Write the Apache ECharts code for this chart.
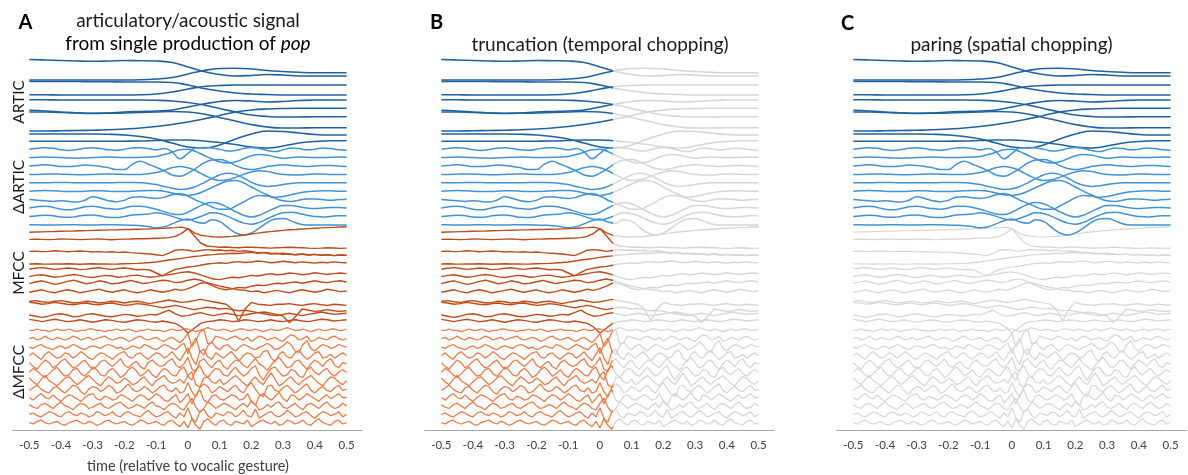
<!DOCTYPE html>
<html>
<head>
<meta charset="utf-8">
<script src="https://cdn.jsdelivr.net/npm/echarts@6/dist/echarts.min.js"></script>
<style>
html,body{margin:0;padding:0;background:#fff;}
#chart{width:1188px;height:475px;}
</style>
</head>
<body>
<div id="chart"></div>
<script>
// Time axis (s, relative to the vocalic gesture)
const TIME_TICKS = [-0.5, -0.4, -0.3, -0.2, -0.1, 0, 0.1, 0.2, 0.3, 0.4, 0.5];
const TRUNCATE_AT = 0.04;   // panel B keeps only samples before this time

// Articulatory trajectories, sampled every 0.05 s (deviation from each row's baseline)
const ARTIC = [
  [0.5,0,-0.5,-1,-1.3,-1,-0.5,-0.7,-1,-2.5,-7,-11.5,-14.5,-16,-15.5,-14.5,-15,-16,-16,-16,-16],
  [-11.6,-11.6,-11.6,-11.6,-11.6,-11.6,-11.6,-11.4,-10.6,-9.1,-5.6,-2.1,-0.1,0.1,-0.6,-2.1,-3.1,-3.9,-4.3,-4.3,-4.3],
  [-4.7,-4.7,-4.7,-4.7,-4.9,-5,-5.2,-5.2,-5.2,-5.7,-8.2,-11.7,-14.2,-16.2,-17.2,-17.7,-18.2,-18.2,-18.2,-18.2,-18.2],
  [-9.5,-9.6,-9.8,-9.8,-9.8,-9.8,-9.8,-9.6,-8.8,-6.8,-3.8,-1.3,-0.3,0.2,0.2,0.2,0.2,0.2,0.2,0.2,0.2],
  [-6.1,-6.2,-6.4,-6.4,-6.4,-6.4,-6.4,-6.4,-6.7,-7.4,-8.9,-11.4,-14.9,-18.4,-21.4,-22.9,-23.4,-23.4,-23.1,-23.1,-23.1],
  [-8.3,-9,-10,-11,-11.5,-11,-10,-9.5,-9,-8,-5,-2,0.5,1.5,1,0,0.5,1.5,2,2,2],
  [-1.6,-1.6,-2.1,-2.6,-2.9,-2.9,-2.6,-2.1,-1.6,-1.1,-1.6,-3.6,-7.1,-10.6,-14.1,-16.6,-17.6,-17.6,-17.3,-17.3,-17.3],
  [-12.2,-12.2,-12,-11.7,-11.4,-11,-10.2,-9.2,-7.7,-5.7,-3.2,-0.2,3.3,6.8,8.8,9.8,10.3,10.5,10.5,10.5,10.5],
  [-6.8,-6.8,-6.8,-6.8,-6.8,-7.1,-7.8,-9.3,-11.8,-15.8,-19.8,-20.8,-17.8,-11.8,-6.8,-3.8,-4.3,-5.8,-7.3,-7.8,-7.8],
  [-5.7,-5.7,-5.7,-5.7,-5.7,-5.7,-5.6,-5.4,-4.9,-4.4,-4.4,-5.4,-6.9,-8.9,-11.4,-12.4,-10.4,-7.4,-5.9,-5.1,-5.1]
];

// Articulatory velocities, sampled every 0.025 s
const D_ARTIC = [
  [0,0.8,1.3,0.8,-0.5,-1,-0.3,0.8,1.2,0.5,-0.5,-0.8,0,1,1.2,0.5,-0.5,0.5,-2,-8,-3.5,1,1.5,1,0,-1.5,-1,0.5,1.5,0.5,-1,-2,-0.5,1,0.5,-0.5,0,1,0.5,-0.5,-1],
  [0,0.3,0.5,0.3,0,-0.3,-0.5,-0.3,0,0.3,0.5,0.3,0,0,0.3,0.5,1,2.5,4.5,6.5,7,5,2,-1,-3.5,-4.5,-3.5,-1,1.5,2.5,2,0.5,-0.5,0,0.5,0.3,0,0,0.3,0.5,0.3],
  [0,0.5,1,0.5,-0.5,-0.5,0,0.8,0.5,-0.5,-1.5,-3,-3,1.5,4,1.5,-1,-4,-7.5,-8.5,-6,-2,2.5,5,5.5,3.5,0.5,-2,-3,-2,-0.5,0.5,1,0.5,0,-0.5,0,0.5,0.5,0,-0.5],
  [0,0,0.2,0.3,0.2,0,-0.2,-0.2,0,0.2,0.3,0.2,0,0,0,0.5,1.5,3.5,5.5,6.5,5.5,3,-0.5,-3.5,-5,-4.5,-2.5,0,2,3,2.5,1,0,-0.5,-0.5,0,0.3,0.3,0,0,0],
  [0,0,0,0.2,0.3,0.2,0,0,0,0,0,0.2,0.3,0.2,0,-0.5,-1.5,-3,-4.5,-5.5,-5,-3,0,3.5,6.5,8,7,4,0.5,-2,-3,-2.5,-1.5,-0.5,0,0,0,0,0,0,0],
  [0,0.3,0.5,0.3,0,-0.3,-0.3,0,0.3,0.3,0,-0.3,-0.3,0,0.3,0.5,0.5,0,-1.5,-3,-3.5,-2.5,0,3,6,8.5,9,7,3.5,0,-3,-5,-4.5,-3,-1.5,-0.5,0,0.3,0.3,0,0],
  [0,-0.5,-1,-1.5,-1,-1.5,-2,-0.5,2.3,1,-1,-1.7,-0.5,2,2.3,1.5,1,2,4,5,3,-0.5,-3,-6,-8,-8,-5.5,-2,1.5,3.5,3,1,-1,-1.5,-0.5,0.5,0.5,0,-0.5,0,0.3],
  [0,1,1.5,0.5,-1,-1.5,-0.5,1,1.5,0.5,-0.5,-1,0,1.5,1.5,0.5,-1,-3,-5,-5.5,-3.5,0,3,4.5,3.5,0.5,-3,-6,-7.5,-6,-3,0,2,2,1,0,-0.5,0,0.5,0.5,0],
  [0,0.5,1,0.5,-0.5,-0.8,0,1,1.2,0.3,-0.8,-1,0,1.2,1.5,2,3,2,0,-2,-3,-1.5,1,3,2.5,0,-3,-5.5,-6.5,-5,-2,1,3,3.5,2.5,1,0,-0.5,0,0.5,0.5],
  [0.1,0,-0.2,-0.2,0,0.1,0,-0.2,-0.2,0,0.1,0,-0.2,-0.4,-0.7,-1.5,-2.5,-1.7,0.8,3.3,4.8,2.3,1.3,4.3,2.8,-2.2,-6.7,-8.5,-6.7,-2.7,1.8,4.8,5.3,3.3,0.8,-0.2,-0.2,-0.2,-0.2,-0.2,-0.2]
];

// Mel-frequency cepstral coefficients, sampled every 0.02 s
const MFCC = [
  [-1,-0.8,-0.7,-0.5,-0.4,-0.2,-0.1,0,0.2,0.3,0.5,0.6,0.7,0.9,1,1.2,1.3,1.5,1.6,1.8,2,2.2,2.5,2.8,3.2,2,-1.5,-3.5,-4.3,-4.8,-5,-4.8,-4.5,-4,-3.3,-2.5,-1.8,-1,-0.5,0,0.5,1,1.3,1.7,2,2.3,2.6,2.8,3,3.3,3.5],
  [0,0.2,0,-0.2,0,0.3,0.2,0,-0.2,0,0.2,0.3,0,-0.3,0,0.2,0.3,0.5,0.5,0.8,1,1.2,1.5,2.5,5,9,3,-3,-5.5,-6,-6.5,-6.3,-6.8,-7,-6.5,-6.5,-6.8,-7,-7.3,-7,-6.8,-6.5,-6.8,-7,-7.3,-7.5,-7.3,-7,-7.2,-7.5,-7.3],
  [-3,-2.8,-3.2,-3,-2.5,-2.8,-3.3,-3,-2.7,-3,-3.5,-3.2,-3.6,-3.3,-3.8,-3.5,-4,-4.4,-4.8,-5.2,-5.8,-6.5,-4.5,-2,-1.5,-2,-3,-2.2,-1.5,-2,-1.8,-2.5,-2,-3,-2.5,-3.2,-4,-3.8,-4.5,-5,-4.5,-5.5,-5.8,-5.2,-6,-5.5,-6.2,-5.8,-6.5,-6,-6.3],
  [-6.5,-6.3,-6.5,-6.6,-6.4,-6.5,-6.3,-6.5,-6.7,-6.5,-6.3,-6.5,-6.4,-6.6,-6.5,-6.3,-6.2,-6,-5.7,-5.3,-4.8,-4,-3.2,-2.5,-1.8,-1,-0.3,0.3,1,1.3,1.8,2,2.5,2.2,2.8,3.2,2.5,3,1.8,2.5,1.5,2,1.2,1.8,1,1.5,0.8,1.3,0.5,1,0.8],
  [-3.7,-3,-2.5,-3.2,-4,-3.5,-2.8,-3.3,-4.2,-3.8,-3,-2.6,-3.4,-4,-3.2,-2.8,-3.5,-4.3,-4,-4.5,-7,-9.5,-6.5,-4,-3,-2,-1.5,-0.5,0.5,1,1.5,1,2,2.5,1.8,2.2,3,2.5,1.5,2,2.8,2.2,1.5,2.3,1.8,1.2,2,1.5,2.3,1.8,1.5],
  [-3,-2,-1.5,-2.5,-3.5,-3,-2,-1.2,-2,-3.2,-3.8,-2.8,-2,-2.5,-3.5,-3,-2.2,-1.8,-2.8,-3.5,-3,-2,-1.5,-0.5,0.5,1,0,-1.5,-3.5,-5,-5.5,-4.5,-3.5,-4,-3,-2,-2.5,-1.5,-0.5,-1.5,-1,0,-0.5,-1.5,-0.8,0.2,-0.5,-1.2,-0.5,0,-0.5],
  [-1.9,-0.5,0.5,-1,-2.5,-1.5,0,1,-0.5,-2,-1,0.5,-0.5,-2,-1.5,-0.3,0.8,-0.5,-1.8,-1,0,1,0.5,-1,-0.5,1,2,1,-1.5,-4,-6,-7,-6,-5,-5.5,-4,-3,-3.5,-2.5,-1.5,-2,-1,-0.5,-1.5,-0.5,0.5,-0.5,-1,0,0.5,-0.5],
  [-2,-1,0,-1.5,-2.5,-1,0,-1,-2.5,-1.5,-0.5,0.5,-1,-2,-1,0,-1.5,-2.5,-1.5,0,-1,-2,-1,0.5,-0.5,1,3,5.5,6,4.5,3,2,1,0,-0.5,-1.5,-1,-2.5,-1.5,-0.5,-1.5,-2.5,-1,0,-1,-2,-1,0.5,-0.5,-1.5,-1],
  [-2.5,-2,-3,-3.5,-2.5,-2,-3,-4,-3.5,-2.5,-3,-4,-3.5,-2.5,-3,-4,-3,-2.5,-3.5,-4.5,-3.5,-2.5,-1.5,-2.5,-3.5,-3,-2,-1,-2,-3,-4,-5,-9,-19,-9,-3.5,-5,-5.5,-6,-5,-5,-4.5,-5.5,-6,-5,-4.5,-5.5,-6,-5,-5.5,-6],
  [3.6,3,2,2.5,3.5,2.8,2,1.5,2.5,3,2,1.5,2.5,3,2,1,1.5,2.5,2,1,0,-1,0,1,0,-1.5,-2.5,-1.5,-0.5,-1,-2,-1.5,-2.5,-3.5,-3,-4,-5,-4.5,-5.5,-6.5,-8,-13.5,-8,-2,-3,-4,-3.5,-2.5,-3.5,-4,-3.5],
  [0,-1,-2,-1,0.5,1,0,-1.5,-1,0.5,1,0,-1,-1.5,-0.5,0.5,0,-1,-0.5,0.5,0,2,4,1,-1,-0.5,1,2,0.5,-0.5,0.5,1.5,0.5,-0.5,0,1,2,1,0,-0.5,0.5,1.5,0.5,-0.5,0.5,1.5,2.5,1.5,0.5,1,1.5],
  [3.4,2.5,1.5,2.5,3.5,2.5,1.5,2,3,2,1,2,3,2.5,1.5,1,2,3,2.5,1.5,1,2,1,0,-3,-8,-4,0,1.5,2,3,2.5,1.5,2,3,2.5,1.5,2,3,2,1.5,2.5,3,2,1.5,2.5,3.5,3,2,2.5,3]
];

// MFCC velocities, sampled every 0.0125 s
const D_MFCC = [
  [0,0,1,0,0,-1,0,1,0,0,1,0,-1,0,0,1,1,0,0,-1,0,0,1,0,0,1,0,-1,0,0,1,0,0,0,-1,0,1,0,0,1,1,0,-1,0,1,2,1,0,0,1,0,-1,0,1,1,0,0,1,0,-1,0,1,0,0,1,2,1,0,0,1,0,-1,0,1,0,0,1,1,0,0,1],
  [0,1,-1,0,2,0,-1,1,0,-1,0,2,1,-1,0,1,-1,0,1,2,0,-1,0,1,0,-2,-1,1,2,0,-1,0,1,-1,-2,0,1,-1,-3,0,4,-6,-2,5,7,-4,-3,2,1,0,-1,1,2,0,-1,1,-2,0,2,1,-1,0,1,-1,-2,1,3,2,-1,0,2,-2,-1,1,0,-1,1,2,0,-1,0],
  [0,-1,1,2,0,-1,-2,0,1,-1,0,2,1,-1,-2,0,1,0,-1,1,2,1,-1,0,-2,-1,1,0,-1,2,1,-1,-2,0,2,1,-1,-2,1,3,-5,2,7,-3,-6,1,4,0,-2,1,2,-1,-3,0,2,1,-1,-2,0,1,3,1,-2,-1,1,4,2,-3,-4,2,5,-1,-3,0,2,1,-1,0,2,1,0],
  [0,2,-1,-3,1,3,0,-2,-1,2,1,-2,0,3,1,-2,-3,0,2,1,-1,-3,0,2,3,-1,-2,1,2,-1,-3,0,2,1,-2,0,3,-1,-4,1,6,-2,-7,3,5,-1,-3,2,0,-2,1,3,-1,-4,0,2,1,-2,-1,3,4,-2,-5,1,3,-1,-2,2,4,0,-3,-1,2,3,-2,-1,1,-2,0,2,0],
  [1,-2,-4,0,3,1,-3,-1,2,4,0,-3,-2,1,3,-1,-4,-2,2,3,0,-2,1,4,-1,-3,0,2,-2,-4,1,3,0,-2,-1,2,4,-1,-3,0,5,-4,-6,2,4,0,-3,1,3,-2,-4,0,3,2,-1,-3,1,4,0,-2,-5,-1,3,5,1,-3,-2,2,3,-1,-4,0,3,1,-2,2,4,-1,-3,1,0],
  [0,3,1,-2,-4,-1,2,4,0,-3,-2,2,3,-1,-3,0,4,2,-2,-3,1,3,0,-4,-2,2,4,1,-3,-1,2,-2,-4,0,3,1,-2,-3,2,4,-3,-6,2,5,-1,-4,0,3,2,-2,-3,1,4,0,-3,-1,3,5,-2,-6,-1,3,4,0,-3,-2,2,1,-3,-4,2,4,0,-2,1,3,-1,-3,0,2,0],
  [2,-1,-3,1,4,0,-2,-4,-1,2,3,0,-3,-1,2,4,1,-2,-4,0,3,1,-2,-1,2,0,-3,-2,1,3,-1,-4,0,2,4,0,-2,-1,1,-2,4,7,-3,-5,2,3,-1,-2,1,-3,-1,2,4,1,-2,-4,0,3,-1,-3,2,6,1,-4,-2,1,3,-1,-3,0,2,4,1,-2,-4,0,3,2,-1,-3,0],
  [-1,1,3,0,-2,-3,1,2,-1,-3,0,3,2,-2,-4,0,2,1,-2,0,3,1,-3,-2,1,4,0,-2,-1,2,0,-3,-1,2,3,-1,-2,1,-3,-2,5,-2,-6,1,4,2,-3,-1,2,0,-2,1,3,-1,-3,2,5,0,-4,-6,2,3,-1,-2,1,3,0,-3,-1,2,4,-1,-3,0,2,-1,-2,1,3,-1,0],
  [0,-2,1,3,0,-1,2,-1,-3,0,2,1,-1,-3,0,2,3,-1,-2,1,0,-2,-1,2,1,-1,-3,0,2,1,-2,0,3,1,-2,-3,0,2,-4,-1,3,-5,2,6,-2,-4,1,2,-1,-2,0,2,1,-2,-1,3,-3,-6,1,3,0,-2,1,4,-1,-3,2,1,-2,0,3,1,-1,-3,0,2,-1,1,3,0,0],
  [1,-1,-2,1,2,0,-2,1,3,0,-1,-3,0,2,1,-2,-1,1,2,-1,-2,0,2,3,0,-2,-1,1,0,-2,1,3,0,-1,-3,0,2,1,-2,-3,2,6,-1,-5,-2,3,1,-2,0,2,1,-1,-3,0,2,-1,4,1,-3,-2,1,-1,2,3,-1,-2,0,2,-1,-3,1,2,0,-2,1,3,0,-2,-1,2,0],
  [0,1,-1,-2,0,2,1,-1,-2,1,2,0,-1,1,0,-2,-1,2,1,-1,0,2,-1,-2,1,2,0,-1,-2,1,3,0,-2,-1,1,2,-1,-3,1,-2,5,-3,-6,2,4,-1,-3,1,0,-1,2,1,-2,0,3,-1,-2,4,-3,-1,1,2,-1,-2,0,3,1,-2,-1,1,2,-1,-3,0,2,1,-1,0,2,-2,0],
  [0,-1,1,2,0,-1,0,1,-1,-2,0,1,2,0,-1,1,0,-2,-1,1,2,0,-1,0,1,-1,-2,0,2,1,-1,0,1,-1,-2,1,2,-1,-3,1,-4,3,-2,-5,1,3,0,-2,1,2,-1,-2,1,0,-1,2,-3,-1,1,2,0,-1,1,-2,-1,2,1,-1,0,2,-1,-2,1,3,0,-1,-2,1,2,-1,0]
];

// ---- drawing ----
const FONT = 'Lato, "Open Sans", "DejaVu Sans", sans-serif';
const GRAY = '#d6d6d6';
const ROW_GAP = 8.4;                 // vertical distance between stacked rows
// per-group display gain, row shift, colour and stroke
const GROUPS = [
  { rows: ARTIC,   step: 0.05,   smooth: 0.45, color: '#1f62a3', width: 1.6, shift: 0,   gain: 1 },
  { rows: D_ARTIC, step: 0.025,  smooth: 0.45, color: '#3f93d6', width: 1.5, shift: 5.2, gain: 1.2 },
  { rows: MFCC,    step: 0.02,   smooth: false, color: '#c04a18', width: 1.4, shift: 3,   gain: 1.2 },
  { rows: D_MFCC,  step: 0.0125, smooth: false, color: '#ec7b46', width: 1.3, shift: 1.5, gain: 1.3 }
];
const PANELS = [
  { letter: 'A', left: 12.8,  mode: 'full' },
  { letter: 'B', left: 424.8, mode: 'truncate' },
  { letter: 'C', left: 836.8, mode: 'pare' }
];
const X_MIN = -0.552, X_MAX = 0.548, PLOT_W = 349;

// stack every trace on its own row
const traces = [];
let row = 0;
GROUPS.forEach((g, gi) => {
  g.rows.forEach(vals => {
    const base = -(ROW_GAP * row + g.shift);
    traces.push({ g, gi, data: vals.map((v, j) => [+(-0.5 + j * g.step).toFixed(4), base + v * g.gain]) });
    row++;
  });
});

const series = [];
PANELS.forEach((p, pi) => {
  traces.forEach(tr => {
    const g = tr.g;
    let color = g.color, z = 3, width = g.width;
    if (p.mode === 'pare' && tr.gi >= 2) { color = GRAY; z = 2; width = 1.2; }
    series.push({
      type: 'line', xAxisIndex: pi, yAxisIndex: pi, data: tr.data,
      showSymbol: false, symbol: 'none', smooth: g.smooth, silent: true,
      lineStyle: { width, color }, z,
      _mode: p.mode, _gi: tr.gi
    });
  });
});

const fmt = v => String(Math.round(v * 10) / 10);

const txt = (x, y, text, size, extra) => Object.assign({
  type: 'text', x, y, silent: true,
  style: Object.assign({ text, fontSize: size, fontFamily: FONT, fill: '#1a1a1a', align: 'center', verticalAlign: 'middle' }, (extra && extra.style) || {})
}, extra && extra.rotation ? { rotation: extra.rotation } : {});

const graphic = [
  txt(25.5, 22.5, 'A', 20, { style: { fontWeight: 'bold', fill: '#000' } }),
  txt(436.5, 22.5, 'B', 20, { style: { fontWeight: 'bold', fill: '#000' } }),
  txt(847.5, 23.5, 'C', 20, { style: { fontWeight: 'bold', fill: '#000' } }),
  txt(188, 20.5, 'articulatory/acoustic signal', 19),
  {
    type: 'text', x: 188, y: 43.5, silent: true,
    style: {
      text: '{n|from single production of }{i|pop}', align: 'center', verticalAlign: 'middle',
      rich: {
        n: { fontSize: 19, fontFamily: FONT, color: '#1a1a1a' },
        i: { fontSize: 19, fontFamily: FONT, color: '#1a1a1a', fontStyle: 'italic' }
      }
    }
  },
  txt(600, 44.5, 'truncation (temporal chopping)', 19),
  txt(1011.5, 45, 'paring (spatial chopping)', 19),
  txt(19, 102, 'ARTIC', 15.5, { rotation: Math.PI / 2 }),
  txt(19, 187, '\u0394ARTIC', 15.5, { rotation: Math.PI / 2 }),
  txt(19, 273, 'MFCC', 15.5, { rotation: Math.PI / 2 }),
  txt(19, 372, '\u0394MFCC', 15.5, { rotation: Math.PI / 2 }),
  txt(188, 466, 'time (relative to vocalic gesture)', 14.5, { style: { fill: '#404040' } })
];

const chart = echarts.init(document.getElementById('chart'), null, { renderer: 'canvas' });
chart.setOption({
  animation: false,
  backgroundColor: '#ffffff',
  grid: PANELS.map(p => ({ left: p.left, top: 43.5, width: PLOT_W, height: 387 })),
  xAxis: PANELS.map((p, pi) => ({
    type: 'value', gridIndex: pi, min: X_MIN, max: X_MAX, position: 'bottom',
    axisLine: { show: true, onZero: false, lineStyle: { color: '#a6a6a6', width: 1 } },
    axisTick: { show: false },
    splitLine: { show: false },
    axisLabel: { customValues: TIME_TICKS, formatter: fmt, color: '#404040', fontSize: 11.5, fontFamily: FONT, margin: 9 }
  })),
  yAxis: PANELS.map((p, pi) => ({ type: 'value', gridIndex: pi, min: -370.5, max: 16.5, show: false })),
  series: series.map(s => { const c = Object.assign({}, s); delete c._mode; delete c._gi; return c; }),
  graphic
});

// Panel B: colour each trace up to the truncation time, grey afterwards
const cutPx = chart.convertToPixel({ xAxisIndex: 1 }, TRUNCATE_AT);
const W = chart.getWidth();
const cutOff = cutPx / W;
chart.setOption({
  series: series.map(s => {
    if (s._mode !== 'truncate') return {};
    const col = GROUPS[s._gi].color;
    return {
      lineStyle: {
        color: new echarts.graphic.LinearGradient(0, 0, W, 0, [
          { offset: 0, color: col }, { offset: cutOff, color: col },
          { offset: cutOff, color: GRAY }, { offset: 1, color: GRAY }
        ], true)
      }
    };
  })
});
</script>
</body>
</html>
